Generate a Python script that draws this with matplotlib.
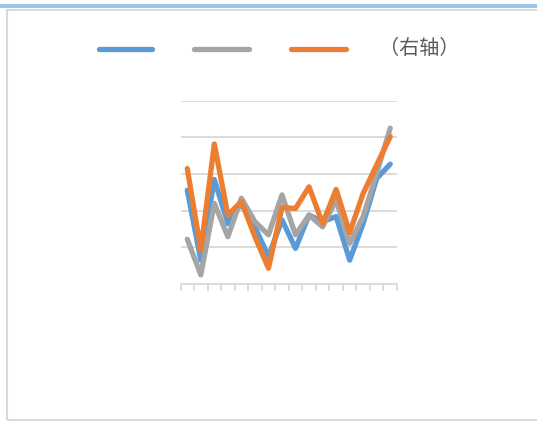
import matplotlib.pyplot as plt
from matplotlib.lines import Line2D
from matplotlib.patches import Rectangle

plt.rcParams['font.family'] = ['Noto Sans CJK SC', 'DejaVu Sans']

# 16 categories, no visible tick labels
categories = list(range(16))
blue = [2.56, 0.65, 2.85, 1.65, 2.2, 1.56, 0.75, 1.75, 0.97, 1.88, 1.7, 1.84, 0.65, 1.65, 2.88, 3.27]
gray = [1.22, 0.25, 2.2, 1.29, 2.34, 1.7, 1.34, 2.43, 1.34, 1.88, 1.56, 2.29, 1.11, 1.84, 3.02, 4.25]
orange = [3.15, 0.93, 3.82, 1.88, 2.25, 1.29, 0.43, 2.09, 2.06, 2.65, 1.65, 2.58, 1.4, 2.47, 3.25, 4.02]
legend_labels = ["", "", "（右轴）"]

W, H = 537, 424
fig = plt.figure(figsize=(W / 100, H / 100), dpi=100)

# top accent band and chart frame
fig.add_artist(Rectangle((0, 1 - 8 / H), 1, 4 / H, transform=fig.transFigure,
                         color="#9dc3e6", lw=0))
fig.add_artist(Rectangle((7.5 / W, 1 - 420 / H), 1.0, (420 - 10) / H,
                         transform=fig.transFigure, fill=False,
                         edgecolor="#d9d9d9", lw=1.5))

ax = fig.add_axes([180.5 / W, (H - 284) / H, 216.5 / W, 183.3 / H])
ax2 = ax.twinx()

style = dict(lw=3.8, solid_capstyle="round", solid_joinstyle="round")
l1, = ax.plot(categories, blue, color="#5b9bd5", **style)
l2, = ax.plot(categories, gray, color="#a5a5a5", **style)
l3, = ax2.plot(categories, orange, color="#ed7d31", **style)

for a in (ax, ax2):
    a.set_xlim(-0.5, 15.5)
    a.set_ylim(0, 5)
    for s in a.spines.values():
        s.set_visible(False)
    a.set_yticks([])
ax.spines["bottom"].set_visible(True)
ax.spines["bottom"].set_color("#d9d9d9")
ax.spines["bottom"].set_linewidth(1.3)
ax.set_yticks([1, 2, 3, 4, 5])
ax.set_yticklabels([])
ax.tick_params(axis="y", length=0)
ax.grid(axis="y", color="#d9d9d9", lw=1.3)
ax.set_axisbelow(True)
ax.set_xticks([c - 0.5 for c in categories] + [15.5])
ax.set_xticklabels([])
ax.tick_params(axis="x", length=5, width=1.3, color="#d9d9d9")

# legend (drawn by hand to match spacing)
ly = 1 - 49 / H
for (x0, x1), ln, lab in zip([(99, 152), (194, 249), (291, 346)], [l1, l2, l3], legend_labels):
    fig.add_artist(Line2D([x0 / W, x1 / W], [ly, ly], transform=fig.transFigure,
                          color=ln.get_color(), lw=3.8, solid_capstyle="round"))
    if lab:
        fig.text(379 / W, ly, lab, fontsize=14.5, color="#595959", va="center", ha="left")

fig.savefig("out.png", dpi=100)
